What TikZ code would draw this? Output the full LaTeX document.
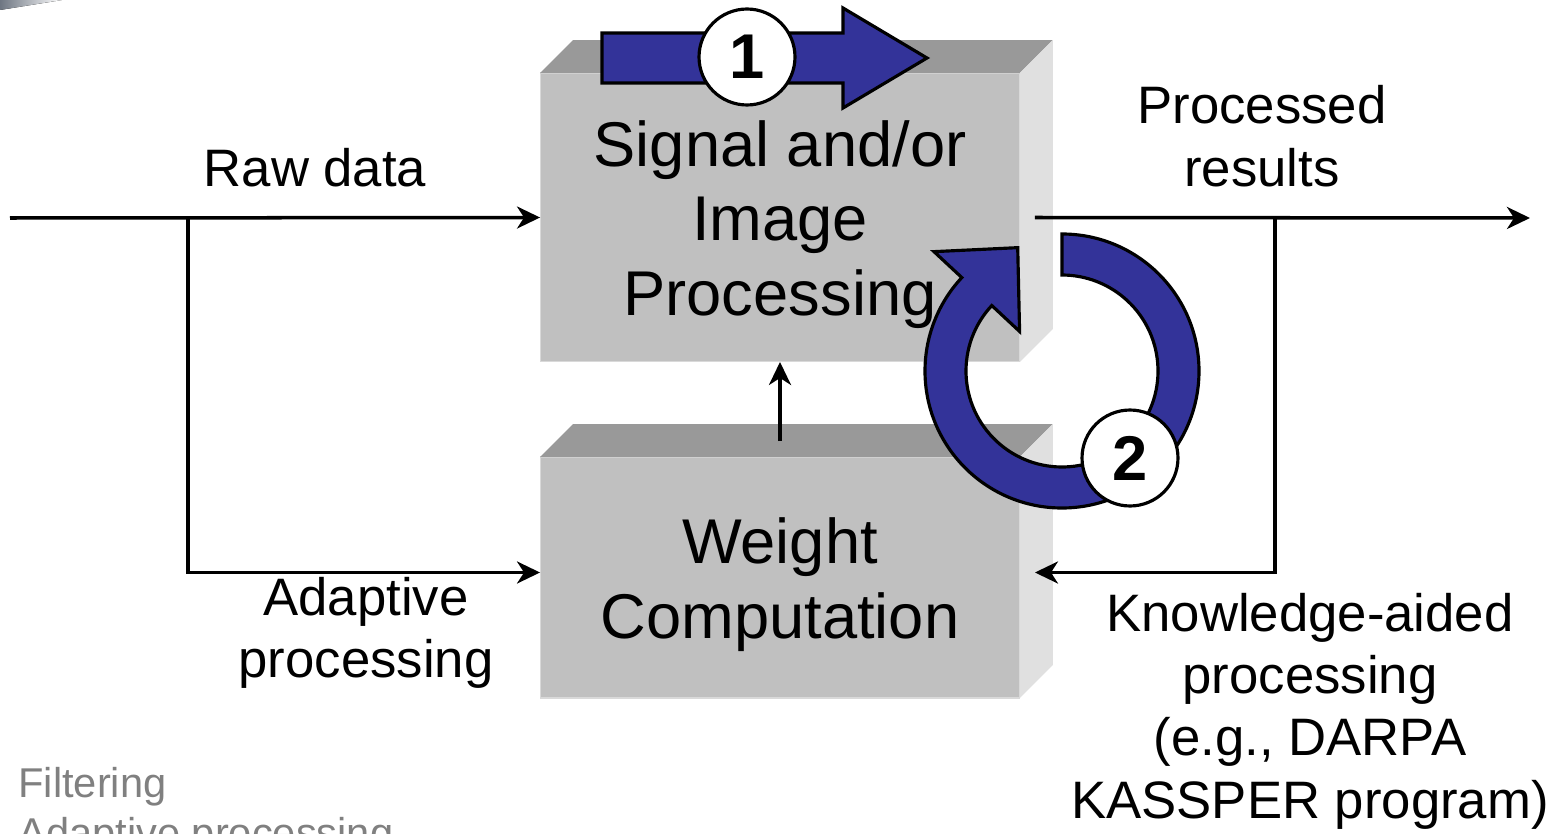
\documentclass[tikz,border=0pt]{standalone}
\usepackage{fontspec}
\setmainfont{Liberation Sans}
\usetikzlibrary{calc,arrows.meta}
\definecolor{ringblue}{HTML}{333399}
\definecolor{frontgray}{HTML}{C0C0C0}
\definecolor{topgray}{HTML}{999999}
\definecolor{sidegray}{HTML}{E0E0E0}
\definecolor{notegray}{HTML}{808080}
\definecolor{swoosh}{HTML}{6E7682}
\newcommand\blocktext{\fontsize{36}{42.5}\selectfont}
\newcommand\labeltext{\fontsize{30}{35.5}\selectfont}
\newcommand\notetext{\fontsize{23.7}{28.5}\selectfont}
\def\boxfaces(#1){
	\fill[topgray] (#1.north west) -- ++(33,33) -- ($(#1.north east)+(33,33)$) -- (#1.north east) -- cycle;
	\fill[sidegray] (#1.south east) -- (#1.north east) -- ++(33,33) -- ($(#1.south east)+(33,33)$) -- cycle;
}
\tikzset{
	block/.style={fill=frontgray, draw=black!15, line width=0.6pt, outer sep=0pt, inner sep=0pt, minimum width=9.6cm},
	blocklbl/.style={align=center, font=\blocktext},
	lbl/.style={align=center, font=\labeltext},
	flow/.style={line width=2pt, -{Stealth[length=0.46cm, width=0.44cm, inset=0.14cm]}},
	bigarrow/.style={fill=ringblue, draw=black, line width=1.8pt, line join=miter},
	stepnum/.style={circle, draw=black, fill=white, line width=1.8pt, minimum size=1.92cm, inner sep=0pt, font=\fontsize{36}{36}\bfseries}
}

\begin{document}
\begin{tikzpicture}[x=0.02cm, y=0.02cm]
			%%%%% START %%%%%
			\useasboundingbox (0,0) rectangle (1552,833);
			\clip (0,0) rectangle (1552,833);
			
			\fill[left color=swoosh, right color=white] (0,833) -- (62,833) -- (0,823) -- cycle;
			
			\node[block, minimum height=5.78cm] (sigbox) at (780,615.5) {};
			\boxfaces(sigbox)
			\node[blocklbl] (sigtxt) at ($(sigbox)+(0,-7)$) {Signal and/or\\Image\\Processing};
			\node[block, minimum height=4.82cm] (wtbox) at (780,255.5) {};
			\boxfaces(wtbox)
			\node[blocklbl] (wttxt) at ($(wtbox)+(0,-7)$) {Weight\\Computation};
			
			\coordinate (rawin) at (10,615);
			\coordinate (rawsplit) at (188,615);
			\coordinate (resout) at (1530,615);
			\coordinate (ressplit) at (1275,615);
			
			\draw[flow] (rawin) -- (sigbox.west);
			\draw[flow] (rawsplit) |- ($(wtbox.west)+(0,5)$);
			\draw[flow] ($(sigbox.east)+(15,0)$) -- (resout);
			\draw[flow] (ressplit) |- ($(wtbox.east)+(15,5)$);
			\draw[flow] ($(wtbox.north)+(0,16)$) -- (sigbox.south);
			
			\node[lbl] (rawlbl) at (315,665) {Raw data};
			\node[lbl] (reslbl) at (1262,697) {Processed\\results};
			\node[lbl] (adaptlbl) at (366,200) {Adaptive\\processing};
			\node[lbl] (kalbl) at (1310,122) {Knowledge-aided\\processing\\(e.g., DARPA\\KASSPER program)};
			
			\node[anchor=base west, inner sep=0pt, text=notegray, font=\notetext] (filtnote) at (18,36) {Filtering};
			\node[anchor=base west, inner sep=0pt, text=notegray, font=\notetext] (adaptnote) at (18,-14) {Adaptive processing};
			
			% step 1
			\draw[bigarrow] (602,750) -- (843,750) -- (843,725) -- (927,775) -- (843,825) -- (843,800) -- (602,800) -- cycle;
			\node[stepnum] (one) at (747,776) {1};
			
			% step 2
			\coordinate (ringc) at (1062,462);
			\draw[bigarrow] ($(ringc)+(90:137)$) arc[start angle=90, end angle=-223, radius=137]
				-- ($(ringc)+(137:175)$) -- ($(ringc)+(137:116.5)+(47:60)$) -- ($(ringc)+(137:58)$)
				-- ($(ringc)+(137:96)$) arc[start angle=-223, end angle=90, radius=96] -- cycle;
			\node[stepnum] (two) at (1130,375) {2};
			
			%%%%% END %%%%%
\end{tikzpicture}
\end{document}
